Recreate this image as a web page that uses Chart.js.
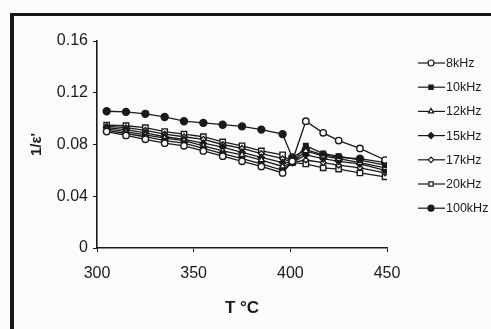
<!DOCTYPE html>
<html lang="en">
  <head>
    <meta charset="UTF-8" />
    <title>1/ε' vs temperature</title>
    <script src="https://cdn.jsdelivr.net/npm/chart.js@4"></script>
    <style>
      body { margin: 0; background: #fbfbfb; }
      #frame {
        position: absolute; left: 10px; top: 13px; width: 500px; height: 330px;
        border-left: 4px solid #161616; border-top: 3px solid #161616;
      }
      #wrap { position: absolute; left: 0; top: 0; width: 491px; height: 329px; }
    </style>
  </head>
  <body>
    <div id="frame"></div>
    <div id="wrap"><canvas id="myChart" width="491" height="329"></canvas></div>
    <script>
      // temperatures (°C) where each frequency was measured
      const temps = [305, 315, 325, 335, 345, 355, 365, 375, 385, 396, 401, 408, 417, 425, 436, 449];

      // 1/ε' for each frequency
      const k8   = [0.090, 0.087,  0.084,  0.081, 0.079, 0.075, 0.071, 0.067, 0.063, 0.058, 0.067, 0.098, 0.089, 0.083, 0.077, 0.068];
      const k10  = [0.091, 0.0885, 0.086,  0.083, 0.081, 0.077, 0.073, 0.069, 0.065, 0.060, 0.066, 0.079, 0.073, 0.071, 0.068, 0.064];
      const k12  = [0.092, 0.090,  0.0875, 0.085, 0.083, 0.079, 0.075, 0.072, 0.068, 0.063, 0.066, 0.075, 0.071, 0.069, 0.066, 0.062];
      const k15  = [0.093, 0.0915, 0.089,  0.086, 0.084, 0.081, 0.078, 0.074, 0.070, 0.066, 0.066, 0.072, 0.069, 0.067, 0.065, 0.060];
      const k17  = [0.094, 0.093,  0.091,  0.088, 0.086, 0.084, 0.080, 0.077, 0.073, 0.069, 0.066, 0.068, 0.066, 0.064, 0.062, 0.058];
      const k20  = [0.095, 0.0945, 0.093,  0.090, 0.088, 0.086, 0.082, 0.079, 0.075, 0.072, 0.066, 0.065, 0.062, 0.061, 0.058, 0.055];
      const k100 = [0.1057, 0.1052, 0.1037, 0.1013, 0.098, 0.0967, 0.0953, 0.094, 0.0915, 0.088, 0.070, 0.076, 0.072, 0.070, 0.069, 0.066];

      const names = ['8kHz', '10kHz', '12kHz', '15kHz', '17kHz', '20kHz', '100kHz'];
      const yTicks = [0, 0.04, 0.08, 0.12, 0.16];
      const xTicks = [300, 350, 400, 450];

      const ink = '#1a1a1a';
      const paper = '#fbfbfb';
      const styles = [
        { pointStyle: 'circle',   pointRadius: 3.2, fill: paper },
        { pointStyle: 'rect',     pointRadius: 3.2, fill: ink },
        { pointStyle: 'triangle', pointRadius: 3.6, fill: paper },
        { pointStyle: 'rectRot',  pointRadius: 3.2, fill: ink },
        { pointStyle: 'rectRot',  pointRadius: 2.8, fill: paper },
        { pointStyle: 'rect',     pointRadius: 3.8, fill: paper },
        { pointStyle: 'circle',   pointRadius: 3.5, fill: ink }
      ];

      const values = [k8, k10, k12, k15, k17, k20, k100];
      const datasets = values.map((vals, i) => ({
        label: names[i],
        data: temps.map((t, j) => ({ x: t, y: vals[j] })),
        borderColor: ink,
        borderWidth: 1.3,
        pointStyle: styles[i].pointStyle,
        pointRadius: styles[i].pointRadius,
        pointBackgroundColor: styles[i].fill,
        pointBorderColor: ink,
        pointBorderWidth: 1.4,
        tension: 0
      }));

      // legend drawn by hand: short line with marker, then the name
      const sideLegend = {
        id: 'sideLegend',
        afterDraw(chart) {
          const ctx = chart.ctx;
          ctx.save();
          ctx.font = '12.5px "Liberation Sans", Arial, sans-serif';
          ctx.textBaseline = 'middle';
          chart.data.datasets.forEach((ds, i) => {
            const y = 63 + i * 24.2;
            ctx.strokeStyle = ink;
            ctx.lineWidth = 1.2;
            ctx.beginPath();
            ctx.moveTo(418, y);
            ctx.lineTo(445, y);
            ctx.stroke();
            ctx.fillStyle = ds.pointBackgroundColor;
            Chart.helpers.drawPoint(ctx, {
              pointStyle: ds.pointStyle,
              radius: Math.min(ds.pointRadius, 3),
              rotation: 0,
              borderWidth: 1.2
            }, 431, y);
            ctx.fillStyle = ink;
            ctx.fillText(ds.label, 446, y + 0.5);
          });
          ctx.restore();
        }
      };

      const family = '"Liberation Sans", Arial, sans-serif';
      const tickFont = { family, size: 16 };

      new Chart(document.getElementById('myChart'), {
        type: 'line',
        data: { datasets },
        options: {
          responsive: false,
          animation: false,
          layout: { padding: { left: 10, right: 104, top: 41, bottom: 6 } },
          plugins: { legend: { display: false }, tooltip: { enabled: false } },
          scales: {
            x: {
              type: 'linear',
              min: 300,
              max: 450,
              afterBuildTicks: (scale) => { scale.ticks = xTicks.map(v => ({ value: v })); },
              afterFit: (scale) => { scale.height = 75; },
              grid: { drawOnChartArea: false, tickLength: 4, color: ink },
              border: { color: ink, width: 1.6 },
              ticks: { color: ink, font: tickFont, padding: 12 },
              title: {
                display: true,
                text: 'T °C',
                color: ink,
                font: { family, size: 17, weight: 'bold' },
                padding: { top: 4, bottom: 4 }
              }
            },
            y: {
              min: 0,
              max: 0.16,
              afterBuildTicks: (scale) => { scale.ticks = yTicks.map(v => ({ value: v })); },
              afterFit: (scale) => { scale.width = 87; },
              grid: { drawOnChartArea: false, tickLength: 4, color: ink },
              border: { color: ink, width: 1.6 },
              ticks: {
                color: ink,
                font: tickFont,
                padding: 5,
                callback: (v) => (v === 0 ? '0' : v.toFixed(2))
              },
              title: {
                display: true,
                text: "1/ε'",
                color: ink,
                font: { family, size: 15, weight: 'bold' },
                padding: { top: 18, bottom: 0 }
              }
            }
          }
        },
        plugins: [sideLegend]
      });
    </script>
  </body>
</html>
